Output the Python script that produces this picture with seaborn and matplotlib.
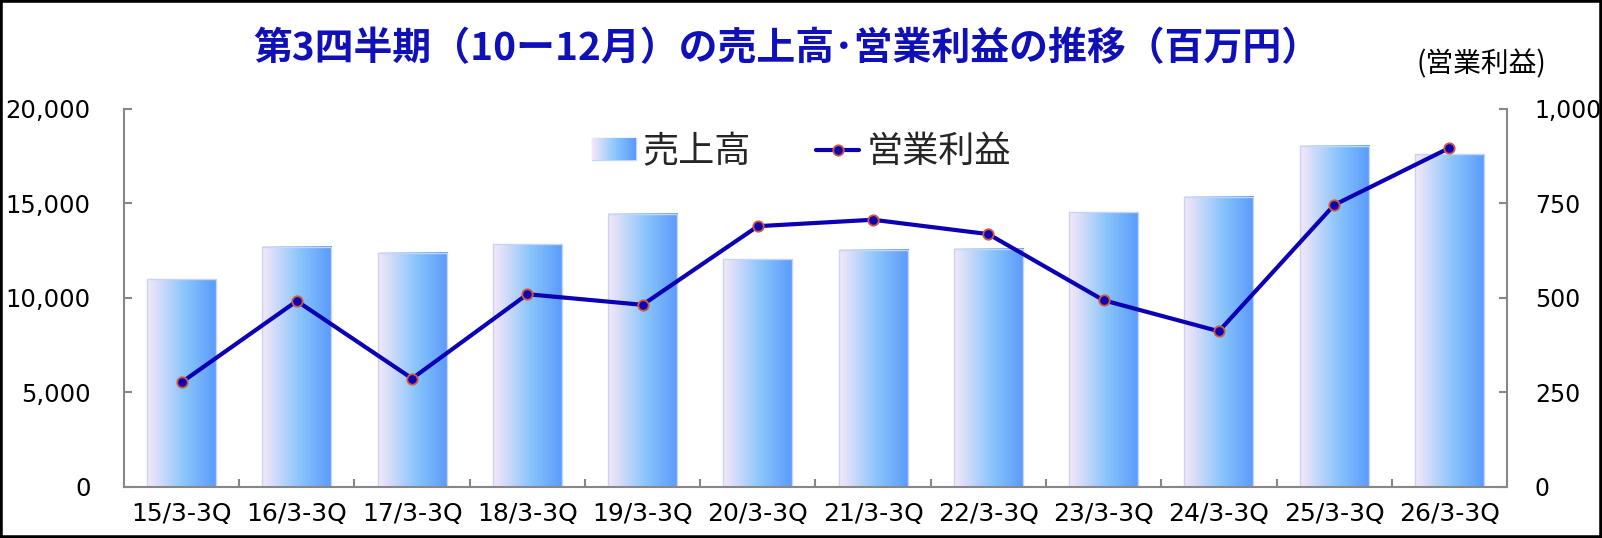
import numpy as np
import pandas as pd
import matplotlib
matplotlib.use('Agg')
import matplotlib.pyplot as plt
import seaborn as sns
from matplotlib.colors import LinearSegmentedColormap
from matplotlib.lines import Line2D
from matplotlib.patches import Patch, Rectangle
from matplotlib.ticker import FuncFormatter, FixedLocator

# data (百万円)
periods = ['15/3-3Q', '16/3-3Q', '17/3-3Q', '18/3-3Q', '19/3-3Q', '20/3-3Q',
           '21/3-3Q', '22/3-3Q', '23/3-3Q', '24/3-3Q', '25/3-3Q', '26/3-3Q']
sales = [11000, 12700, 12400, 12850, 14450, 12050, 12550, 12600, 14550, 15350, 18050, 17600]
op_profit = [277, 492, 287, 510, 482, 690, 707, 669, 494, 412, 746, 897]

title = '第3四半期（10ー12月）の売上高･営業利益の推移（百万円）'
sales_name = '売上高'
profit_name = '営業利益'

df = pd.DataFrame({'period': periods, 'sales': sales, 'profit': op_profit})
df['pos'] = np.arange(len(df))

sns.set_theme(style='white')
plt.rcParams['font.family'] = ['DejaVu Sans', 'Noto Sans CJK JP']
cjk = ['Noto Sans CJK JP', 'DejaVu Sans']
grey = '#878787'

fig = plt.figure(figsize=(16.02, 5.38), dpi=100)
ax = fig.add_axes([0.0774, 0.0948, 0.8633, 0.7026])

sns.barplot(data=df, x='period', y='sales', ax=ax, width=0.6, color='#8cc6fc',
            edgecolor='#c6d6f2', linewidth=1.0)

# horizontal gradient fill for each bar
grad = np.linspace(0, 1, 256).reshape(1, -1)
bar_cmap = LinearSegmentedColormap.from_list(
    'bar', [(0, '#f6e8f8'), (0.55, '#88c4fc'), (1, '#5a9afb')])
for p in ax.patches:
    x, y, w, h = p.get_x(), p.get_y(), p.get_width(), p.get_height()
    ax.imshow(grad, cmap=bar_cmap, aspect='auto', extent=(x, x + w, y, y + h),
              zorder=1.5, interpolation='bilinear')
    p.set_facecolor('none')
    p.set_zorder(2)

ax.set_xlim(-0.5, len(df) - 0.5)
ax.set_ylim(0, 20000)
ax.yaxis.set_major_locator(FixedLocator([0, 5000, 10000, 15000, 20000]))
ax.yaxis.set_major_formatter(FuncFormatter(lambda v, _: f'{v:,.0f}'))
ax.set_xlabel('')
ax.set_ylabel('')

ax2 = ax.twinx()
sns.lineplot(data=df, x='pos', y='profit', ax=ax2, color='#0c00b4', linewidth=3.0,
             marker='o', markersize=7.5, markerfacecolor='#1000b0',
             markeredgecolor='#d35a3c', markeredgewidth=1.3, sort=False)
ax2.set_ylim(0, 1000)
ax2.yaxis.set_major_locator(FixedLocator([0, 250, 500, 750, 1000]))
ax2.yaxis.set_major_formatter(FuncFormatter(lambda v, _: f'{v:,.0f}'))
ax2.set_xlabel('')
ax2.set_ylabel('')
ax2.set_xlim(-0.5, len(df) - 0.5)

for a in (ax, ax2):
    for side in ('left', 'right', 'bottom'):
        a.spines[side].set_color(grey)
        a.spines[side].set_linewidth(1.5)
    a.spines['top'].set_visible(False)
    a.grid(False)
ax.spines['right'].set_visible(False)
ax2.spines['left'].set_visible(False)
ax2.spines['bottom'].set_visible(False)

ax.tick_params(axis='y', which='major', direction='in', length=6, width=1.5,
               color=grey, labelsize=17.5, pad=24, labelcolor='black', left=True)
ax2.tick_params(axis='y', which='major', direction='in', length=6, width=1.5,
                color=grey, labelsize=17, pad=20, labelcolor='black', right=True)
ax.tick_params(axis='x', which='major', length=0, labelsize=18, pad=11, labelcolor='black')
ax.xaxis.set_minor_locator(FixedLocator(np.arange(0.5, len(df) - 1, 1.0)))
ax.tick_params(axis='x', which='minor', direction='in', length=6, width=1.5,
               color=grey, bottom=True)

# legend
handles = [Patch(facecolor='#8cc6fc', edgecolor='#c6d6f2', label=sales_name),
           Line2D([], [], color='#0c00b4', lw=3.0, marker='o', markersize=7.5,
                  markerfacecolor='#1000b0', markeredgecolor='#d35a3c',
                  markeredgewidth=1.3, label=profit_name)]
leg = ax2.legend(handles=handles, loc='center', bbox_to_anchor=(0.49, 0.886), ncol=2,
                 frameon=False, prop={'family': cjk, 'size': 26}, handlelength=1.2,
                 handleheight=0.55, handletextpad=0.2, columnspacing=1.8)

fig.text(0.491, 1 - 49 / 538, title, ha='center', va='center', fontsize=28,
         fontweight='bold', color='#1010b8', family=cjk)
fig.text(1481 / 1602, 1 - 64 / 538, '(営業利益)', ha='center', va='center',
         fontsize=20, color='black', family=cjk)

fig.patches.append(Rectangle((0, 0), 1, 1, transform=fig.transFigure, fill=False,
                             edgecolor='black', linewidth=4, zorder=10))

# gradient on the legend swatch too
fig.canvas.draw()
sw = leg.get_patches()[0]
bb = sw.get_window_extent().transformed(fig.transFigure.inverted())
sw.set_facecolor('none')
sax = fig.add_axes(bb.bounds, zorder=5)
sax.imshow(grad, cmap=bar_cmap, aspect='auto', interpolation='bilinear')
sax.axis('off')

fig.savefig('out.png', dpi=100)
